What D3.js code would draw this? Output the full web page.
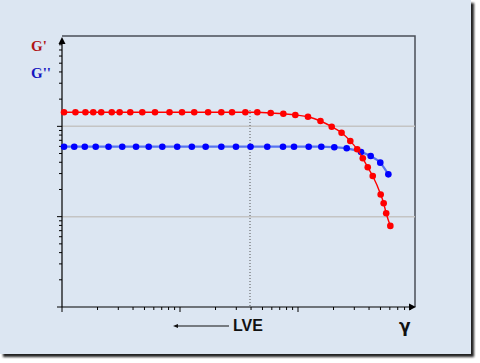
<!DOCTYPE html>
<html>
<head>
<meta charset="utf-8">
<script src="https://cdn.jsdelivr.net/npm/d3@7"></script>
<style>
  body { margin: 0; background: #fff; }
</style>
</head>
<body>
<div id="chart"></div>
<script>
// storage modulus G' (red)
let gPrimeX = [0.00104, 0.0013, 0.00158, 0.00184, 0.00215, 0.00264, 0.00308, 0.00379, 0.00479, 0.00614,
    0.00815, 0.0104, 0.0132, 0.0173, 0.0224, 0.0276, 0.0358, 0.0452, 0.0587, 0.0751,
    0.0949, 0.1215, 0.155, 0.193, 0.234, 0.2775, 0.3175, 0.354, 0.39, 0.43,
    0.502, 0.532, 0.559, 0.606];
let gPrimeY = [143, 143, 143, 143, 143, 143, 143, 143, 143, 143,
    143, 143, 143, 143, 143, 143, 143, 143, 140.5, 138,
    133.5, 127.8, 114.6, 99.1, 85, 68.8, 55.7, 44.3, 35.2, 28.2,
    17.6, 14.1, 10.9, 7.9];
// loss modulus G'' (blue)
let gDoubleX = [0.00104, 0.00127, 0.00156, 0.00193, 0.00248, 0.00324, 0.00424, 0.00543, 0.00708, 0.00947,
    0.0126, 0.0165, 0.0224, 0.0298, 0.0396, 0.0549, 0.0746, 0.0925, 0.1232, 0.1576,
    0.2031, 0.2587, 0.342, 0.413, 0.498, 0.583];
let gDoubleY = [59.5, 59.5, 59.5, 59.5, 59.5, 59.5, 59.5, 59.5, 59.5, 59.5,
    59.5, 59.5, 59.5, 59.5, 59.5, 59.5, 59.5, 59.5, 59.5, 59.5,
    58.6, 57.1, 52, 46.9, 39.6, 29.4];
let gridValues = [10, 100];
let lveLimit = 0.0392;

let width = 480, height = 363;
let plot = { left: 62, right: 415, top: 36, bottom: 307 };

let svg = d3.select("#chart").append("svg").attr("width", width).attr("height", height);

// panel + shadow
let defs = svg.append("defs");
let blur = defs.append("filter").attr("id", "shadow").attr("x", "-5%").attr("y", "-5%").attr("width", "110%").attr("height", "110%");
blur.append("feGaussianBlur").attr("stdDeviation", 1);
svg.append("rect").attr("x", 3).attr("y", 3).attr("width", 471).attr("height", 354)
    .attr("fill", "#222").attr("filter", "url(#shadow)");
svg.append("rect").attr("x", 0).attr("y", 0).attr("width", 471).attr("height", 354).attr("fill", "#dce6f2");

let x = d3.scaleLog().domain([0.001, 1]).range([plot.left, plot.left + 354]);
let y = d3.scaleLog().domain([1, 1000]).range([plot.bottom, plot.bottom - 271]);

// frame top/right
svg.append("path")
    .attr("d", "M" + plot.left + "," + plot.top + "H" + plot.right + "V" + plot.bottom)
    .attr("fill", "none").attr("stroke", "#4a4f58").attr("stroke-width", 1.5);

// gridlines
gridValues.forEach(v => {
    svg.append("line").attr("x1", plot.left).attr("x2", plot.right)
        .attr("y1", y(v)).attr("y2", y(v))
        .attr("stroke", "#c4c4c4").attr("stroke-width", 1.5);
});

// LVE limit dotted line
svg.append("line").attr("x1", x(lveLimit)).attr("x2", x(lveLimit))
    .attr("y1", 110).attr("y2", plot.bottom)
    .attr("stroke", "#555").attr("stroke-width", 1).attr("stroke-dasharray", "1,2");

// axes ticks
let xTicks = [];
[0.001, 0.01, 0.1].forEach(d => { for (let k = 1; k < 10; k++) xTicks.push({ v: d * k, major: k === 1 }); });
xTicks.forEach(t => {
    svg.append("line").attr("x1", x(t.v)).attr("x2", x(t.v))
        .attr("y1", plot.bottom).attr("y2", plot.bottom + (t.major ? 5 : 3))
        .attr("stroke", "#000").attr("stroke-width", 1);
});
let yTicks = [];
[1, 10, 100].forEach(d => { for (let k = 1; k < 10; k++) yTicks.push({ v: d * k, major: k === 1 }); });
yTicks.forEach(t => {
    if (y(t.v) < plot.top + 8) return;
    svg.append("line").attr("x1", plot.left - (t.major ? 5 : 3)).attr("x2", plot.left)
        .attr("y1", y(t.v)).attr("y2", y(t.v))
        .attr("stroke", "#000").attr("stroke-width", 1);
});

// axis lines with arrows
svg.append("line").attr("x1", plot.left).attr("x2", plot.left).attr("y1", plot.bottom).attr("y2", plot.top + 4)
    .attr("stroke", "#000").attr("stroke-width", 1.2);
svg.append("path").attr("d", "M" + plot.left + "," + (plot.top + 1) + "l-3.5,7h7z").attr("fill", "#000");
svg.append("line").attr("x1", plot.left).attr("x2", plot.right - 3).attr("y1", plot.bottom).attr("y2", plot.bottom)
    .attr("stroke", "#000").attr("stroke-width", 1.2);
svg.append("path").attr("d", "M" + (plot.right + 1) + "," + plot.bottom + "l-7,-3.5v7z").attr("fill", "#000");

// series
let line = d3.line().x(d => x(d[0])).y(d => y(d[1])).curve(d3.curveMonotoneX);
let redData = gPrimeX.map((v, i) => [v, gPrimeY[i]]);
let blueData = gDoubleX.map((v, i) => [v, gDoubleY[i]]);

svg.append("path").attr("d", line(blueData)).attr("fill", "none")
    .attr("stroke", "#3f5ff0").attr("stroke-opacity", 0.85).attr("stroke-width", 2.2);
svg.selectAll(".bdot").data(blueData).enter().append("circle")
    .attr("cx", d => x(d[0])).attr("cy", d => y(d[1])).attr("r", 3.3).attr("fill", "#0000ff");

svg.append("path").attr("d", line(redData)).attr("fill", "none")
    .attr("stroke", "#ff0000").attr("stroke-width", 1.4);
svg.selectAll(".rdot").data(redData).enter().append("circle")
    .attr("cx", d => x(d[0])).attr("cy", d => y(d[1])).attr("r", 3.3).attr("fill", "#ff0000");

// labels
svg.append("text").attr("x", 31).attr("y", 51).text("G'")
    .attr("fill", "#b01515").attr("style", "font: bold 15px 'Liberation Serif', serif");
svg.append("text").attr("x", 31).attr("y", 78).text("G''")
    .attr("fill", "#1515c0").attr("style", "font: bold 15px 'Liberation Serif', serif");

svg.append("text").attr("x", 233).attr("y", 331).text("LVE")
    .attr("fill", "#111").attr("style", "font: bold 16px 'Liberation Sans', sans-serif");
svg.append("line").attr("x1", 177).attr("x2", 229).attr("y1", 326).attr("y2", 326)
    .attr("stroke", "#111").attr("stroke-width", 1);
svg.append("path").attr("d", "M173,326l5,-2v4z").attr("fill", "#111");

svg.append("text").attr("x", 399).attr("y", 332).text("γ")
    .attr("fill", "#111").attr("style", "font: bold 17px 'DejaVu Sans', sans-serif");
</script>
</body>
</html>
